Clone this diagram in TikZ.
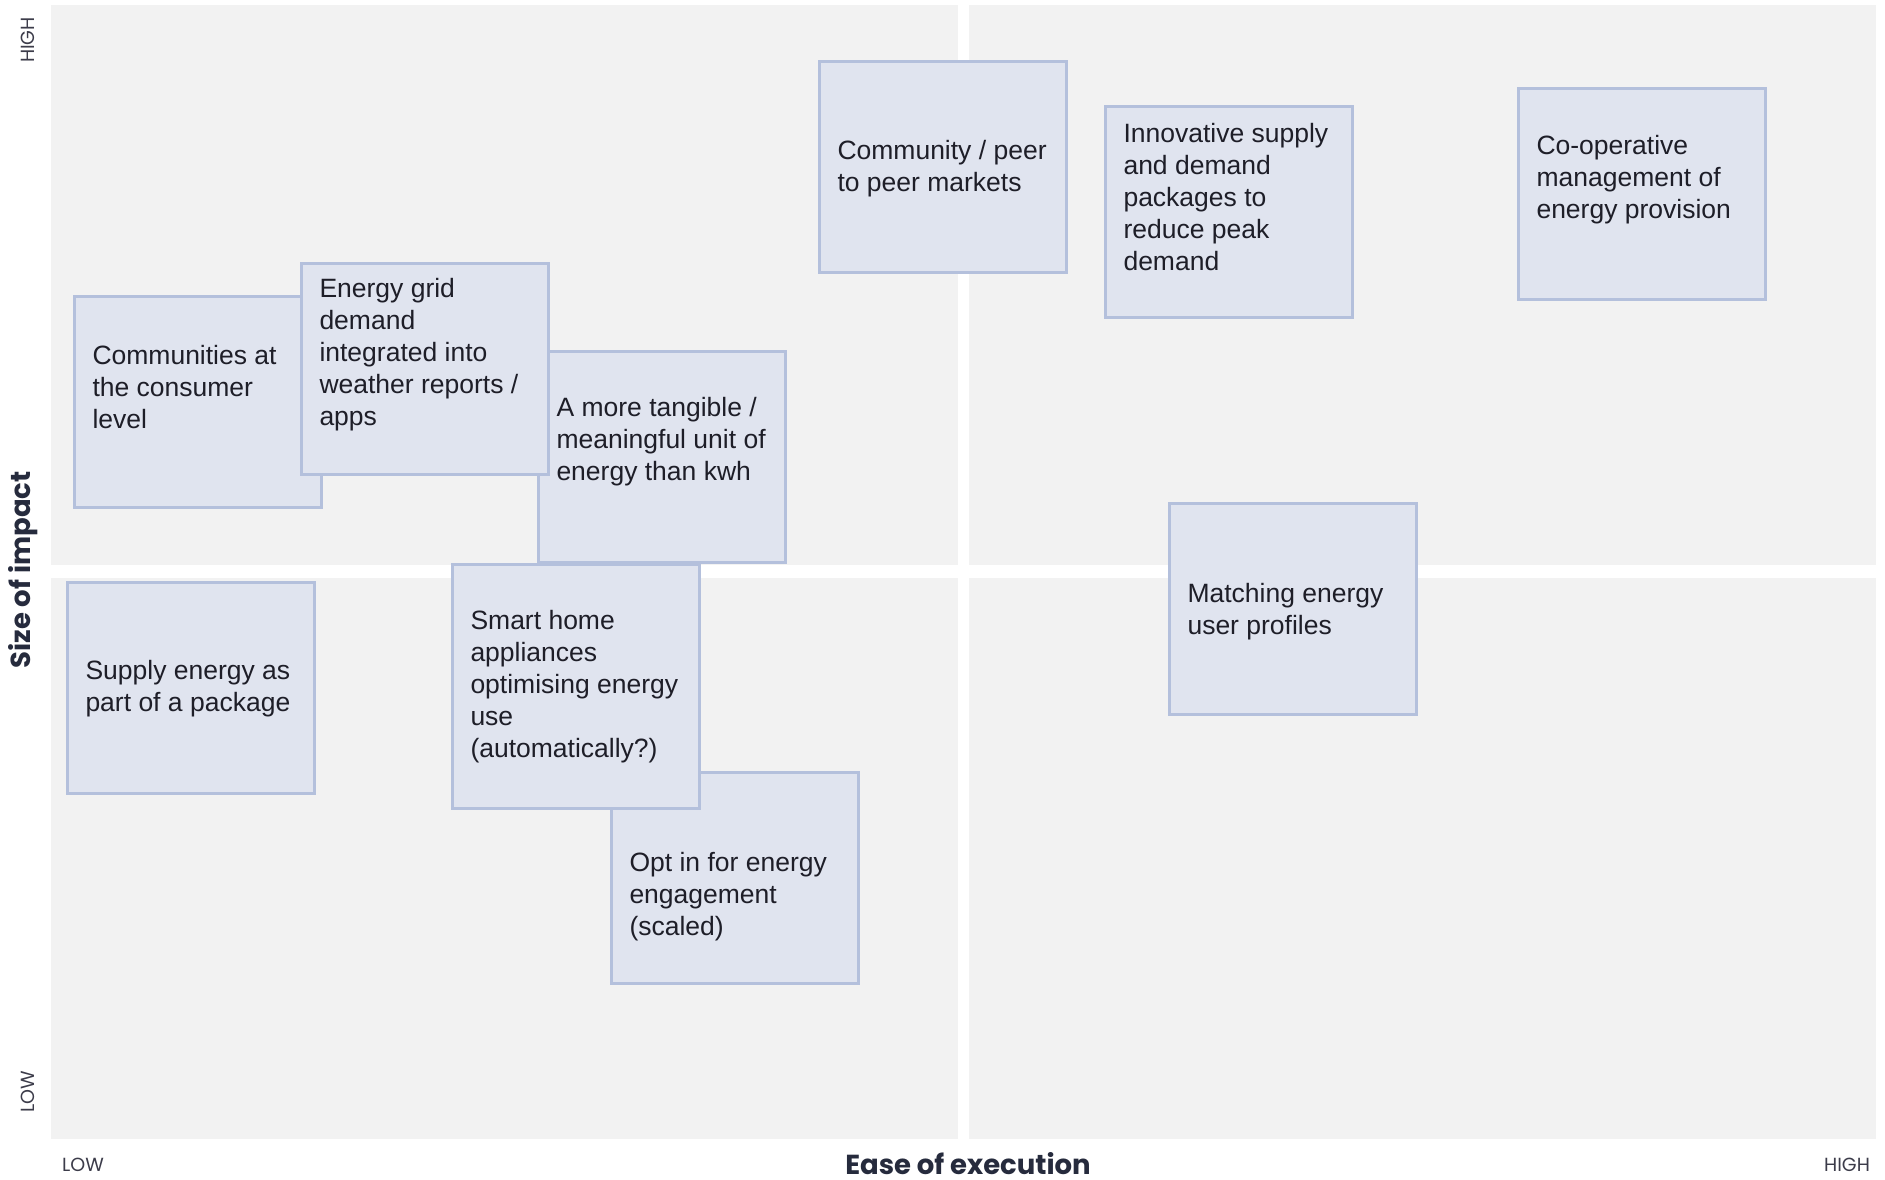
\documentclass[tikz,border=0pt]{standalone}
\usepackage{fontspec}
\setmainfont{Liberation Sans}
\newfontfamily\axisfont{Poppins}
\usepackage{xcolor}
\definecolor{quadgrey}{HTML}{F2F2F2}
\definecolor{cardfill}{HTML}{E0E4EF}
\definecolor{cardline}{HTML}{B4C0DC}
\definecolor{cardtext}{HTML}{1E1E28}
\definecolor{axisnavy}{HTML}{262B3D}
\definecolor{axisgrey}{HTML}{3C3C4A}

\begin{document}
\begin{tikzpicture}[x=0.4pt,y=-0.4pt,
  quad/.style={fill=quadgrey},
  card/.style={draw=cardline, fill=cardfill, line width=1.1pt, minimum width=98.9pt, minimum height=84.5pt, inner sep=0pt, anchor=north west},
  cardlabel/.style={anchor=west, inner sep=0pt, align=left, text=cardtext, font=\fontsize{10.6}{12.8}\selectfont},
  axistitle/.style={text=axisnavy, inner sep=0pt, font=\axisfont\bfseries\fontsize{11}{13}\selectfont},
  axisend/.style={text=axisgrey, inner sep=0pt, font=\axisfont\fontsize{7.6}{9}\selectfont}]
\fill[white] (0,0) rectangle (1885,1179);
\useasboundingbox (0,0) rectangle (1885,1179);

% quadrants
\fill[quad] (51,5) rectangle (958,565);
\fill[quad] (969,5) rectangle (1876,565);
\fill[quad] (51,578) rectangle (958,1139);
\fill[quad] (969,578) rectangle (1876,1139);

% axes
\node[axisend, rotate=90] (yhigh) at (28,40) {HIGH};
\node[axisend, rotate=90] (ylow) at (28,1092) {LOW};
\node[axistitle, rotate=90] (ytitle) at (23,570) {Size of impact};
\node[axisend] (xlow) at (83,1165) {LOW};
\node[axisend] (xhigh) at (1847,1165) {HIGH};
\node[axistitle] (xtitle) at (968,1164) {Ease of execution};

% ideas
\node[card] (comm) at (73,295) {};
\node[cardlabel] (comm-t) at ([shift={(19,-15)}]comm.west) {Communities at\\the consumer\\level};

\node[card] (unit) at (537,350) {};
\node[cardlabel] (unit-t) at ([shift={(19,-15)}]unit.west) {A more tangible /\\meaningful unit of\\energy than kwh};

\node[card] (grid) at (300,262) {};
\node[cardlabel] (grid-t) at ([shift={(19,-14)}]grid.west) {Energy grid\\demand\\integrated into\\weather reports /\\apps};

\node[card] (optin) at (610,771) {};
\node[cardlabel] (optin-t) at ([shift={(19,19)}]optin.west) {Opt in for energy\\engagement\\(scaled)};

\node[card, minimum height=97.7pt] (smart) at (451,563) {};
\node[cardlabel] (smart-t) at ([shift={(19,0)}]smart.west) {Smart home\\appliances\\optimising energy\\use\\(automatically?)};

\node[card] (supply) at (66,581) {};
\node[cardlabel] (supply-t) at ([shift={(19,1)}]supply.west) {Supply energy as\\part of a package};

\node[card] (peer) at (818,60) {};
\node[cardlabel] (peer-t) at ([shift={(19,2)}]peer.west) {Community / peer\\to peer markets};

\node[card] (innov) at (1104,105) {};
\node[cardlabel] (innov-t) at ([shift={(19,-15)}]innov.west) {Innovative supply\\and demand\\packages to\\reduce peak\\demand};

\node[card] (coop) at (1517,87) {};
\node[cardlabel] (coop-t) at ([shift={(19,-14)}]coop.west) {Co-operative\\management of\\energy provision};

\node[card] (match) at (1168,502) {};
\node[cardlabel] (match-t) at ([shift={(19,3)}]match.west) {Matching energy\\user profiles};
\end{tikzpicture}
\end{document}
